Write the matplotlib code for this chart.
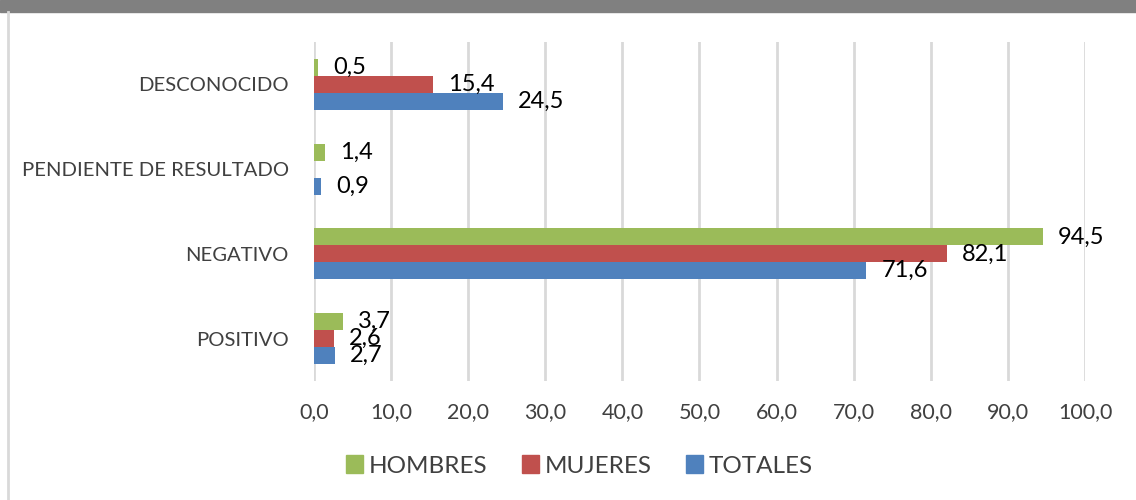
import numpy as np
import matplotlib.pyplot as plt
from matplotlib.patches import Rectangle
from matplotlib.lines import Line2D

plt.rcParams['font.family'] = ['Lato', 'DejaVu Sans']

categories = ['POSITIVO', 'NEGATIVO', 'PENDIENTE DE RESULTADO', 'DESCONOCIDO']
hombres = [3.7, 94.5, 1.4, 0.5]
mujeres = [2.6, 82.1, np.nan, 15.4]
totales = [2.7, 71.6, 0.9, 24.5]
series_names = ['HOMBRES', 'MUJERES', 'TOTALES']
colors = ['#9bbb59', '#c0504d', '#4f81bd']

fig = plt.figure(figsize=(11.36, 5), dpi=100)
ax = fig.add_axes([0.2764, 0.238, 0.6787, 0.678])

# frame decorations: grey band on top, thin border at left
fig.patches.append(Rectangle((0, 0.976), 1, 0.024, transform=fig.transFigure,
                             color='#808080', zorder=0))
fig.lines.append(Line2D([0.007, 0.007], [0, 0.976], transform=fig.transFigure,
                        color='#d9d9d9', lw=2))

y = np.arange(len(categories))
h = 0.2
offsets = [h, 0, -h]
for vals, off, col in zip([hombres, mujeres, totales], offsets, colors):
    ax.barh(y + off, vals, height=h, color=col, zorder=3)
    for yi, v in zip(y, vals):
        if np.isnan(v):
            continue
        lbl = f'{v:.1f}'.replace('.', ',')
        ax.annotate(lbl, (v, yi + off), xytext=(11, 0), textcoords='offset points',
                    va='center', ha='left', fontsize=17, color='black', zorder=4)

ax.set_xlim(0, 100)
ax.set_ylim(-0.5, 3.5)
ax.set_xticks(np.arange(0, 101, 10))
ax.set_xticklabels([f'{t:.1f}'.replace('.', ',') for t in np.arange(0, 101, 10)])
ax.set_yticks(y)
ax.set_yticklabels(categories)
ax.tick_params(axis='both', length=0, colors='#404040')
ax.tick_params(axis='y', pad=18, labelsize=14.6)
ax.tick_params(axis='x', pad=15, labelsize=15.5)
ax.grid(axis='x', color='#d9d9d9', lw=2, zorder=0)
for s in ax.spines.values():
    s.set_visible(False)

handles = [Rectangle((0, 0), 1, 1, color=c) for c in colors]
leg = fig.legend(handles, series_names, loc='center', bbox_to_anchor=(0.51, 0.068),
                 ncol=3, frameon=False, fontsize=17.5, handlelength=0.7, handleheight=0.7,
                 handletextpad=0.25, columnspacing=1.4)
for t in leg.get_texts():
    t.set_color('#404040')

fig.savefig('out.png', dpi=100)
